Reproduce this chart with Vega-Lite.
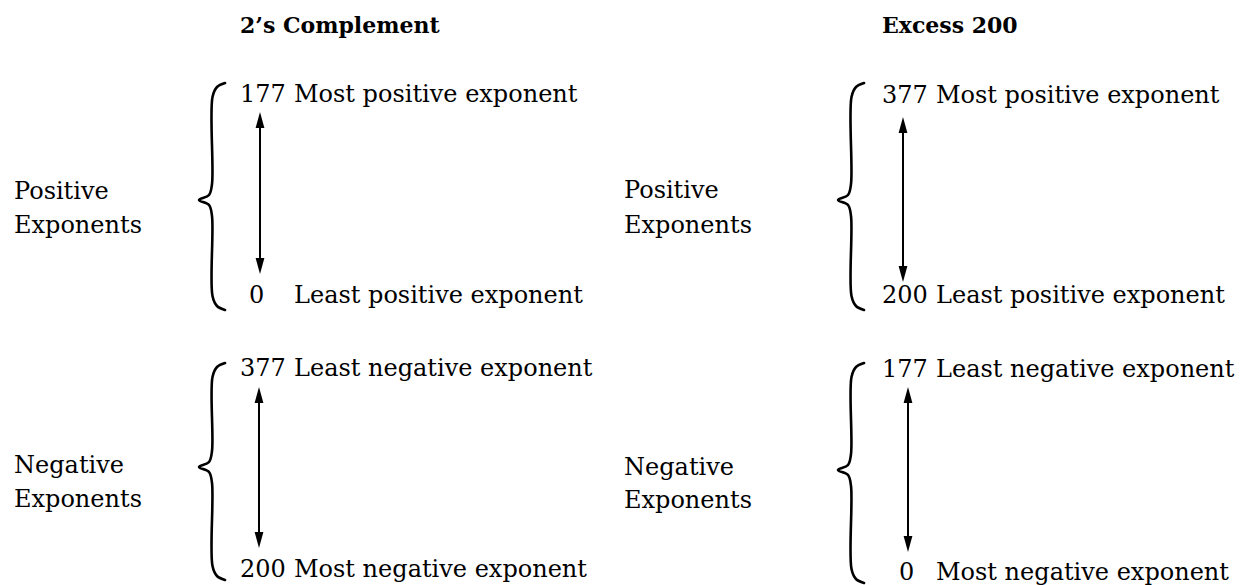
{
  "$schema": "https://vega.github.io/schema/vega-lite/v6.json",
  "width": 1252,
  "height": 585,
  "padding": 0,
  "autosize": {"type": "fit", "contains": "padding"},
  "background": "white",
  "config": {"view": {"stroke": null}},
  "datasets": {
    "titles": [
      {"x": 240, "y": 33, "t": "2’s Complement"},
      {"x": 882, "y": 33, "t": "Excess 200"}
    ],
    "texts": [
      {"x": 14, "y": 199, "t": "Positive"},
      {"x": 14, "y": 233, "t": "Exponents"},
      {"x": 14, "y": 473, "t": "Negative"},
      {"x": 14, "y": 507, "t": "Exponents"},
      {"x": 624, "y": 198, "t": "Positive"},
      {"x": 624, "y": 233, "t": "Exponents"},
      {"x": 624, "y": 475, "t": "Negative"},
      {"x": 624, "y": 508, "t": "Exponents"},
      {"x": 240, "y": 102, "t": "177"},
      {"x": 294, "y": 102, "t": "Most positive exponent"},
      {"x": 249, "y": 303, "t": "0"},
      {"x": 294, "y": 303, "t": "Least positive exponent"},
      {"x": 240, "y": 376, "t": "377"},
      {"x": 294, "y": 376, "t": "Least negative exponent"},
      {"x": 240, "y": 577, "t": "200"},
      {"x": 294, "y": 577, "t": "Most negative exponent"},
      {"x": 882, "y": 103, "t": "377"},
      {"x": 936, "y": 103, "t": "Most positive exponent"},
      {"x": 882, "y": 303, "t": "200"},
      {"x": 936, "y": 303, "t": "Least positive exponent"},
      {"x": 882, "y": 377, "t": "177"},
      {"x": 936, "y": 377, "t": "Least negative exponent"},
      {"x": 899, "y": 580, "t": "0"},
      {"x": 936, "y": 580, "t": "Most negative exponent"}
    ],
    "braces": [
      {"b": "LT", "i": 0, "x": 225, "y": 83}, {"b": "LT", "i": 1, "x": 217, "y": 87}, {"b": "LT", "i": 2, "x": 212.5, "y": 97},
      {"b": "LT", "i": 3, "x": 212, "y": 184}, {"b": "LT", "i": 4, "x": 209, "y": 195}, {"b": "LT", "i": 5, "x": 199, "y": 200},
      {"b": "LT", "i": 6, "x": 209, "y": 205}, {"b": "LT", "i": 7, "x": 212, "y": 216}, {"b": "LT", "i": 8, "x": 212.5, "y": 296},
      {"b": "LT", "i": 9, "x": 217, "y": 306}, {"b": "LT", "i": 10, "x": 225, "y": 310},
      {"b": "LB", "i": 0, "x": 225, "y": 363}, {"b": "LB", "i": 1, "x": 217, "y": 367}, {"b": "LB", "i": 2, "x": 212.5, "y": 377},
      {"b": "LB", "i": 3, "x": 212, "y": 451}, {"b": "LB", "i": 4, "x": 209, "y": 462}, {"b": "LB", "i": 5, "x": 199, "y": 467},
      {"b": "LB", "i": 6, "x": 209, "y": 472}, {"b": "LB", "i": 7, "x": 212, "y": 483}, {"b": "LB", "i": 8, "x": 212.5, "y": 566},
      {"b": "LB", "i": 9, "x": 217, "y": 576}, {"b": "LB", "i": 10, "x": 225, "y": 580},
      {"b": "RT", "i": 0, "x": 864, "y": 83}, {"b": "RT", "i": 1, "x": 856, "y": 87}, {"b": "RT", "i": 2, "x": 851.5, "y": 97},
      {"b": "RT", "i": 3, "x": 851, "y": 184}, {"b": "RT", "i": 4, "x": 848, "y": 195}, {"b": "RT", "i": 5, "x": 838, "y": 200},
      {"b": "RT", "i": 6, "x": 848, "y": 205}, {"b": "RT", "i": 7, "x": 851, "y": 216}, {"b": "RT", "i": 8, "x": 851.5, "y": 296},
      {"b": "RT", "i": 9, "x": 856, "y": 306}, {"b": "RT", "i": 10, "x": 864, "y": 310},
      {"b": "RB", "i": 0, "x": 864, "y": 363}, {"b": "RB", "i": 1, "x": 856, "y": 367}, {"b": "RB", "i": 2, "x": 851.5, "y": 377},
      {"b": "RB", "i": 3, "x": 851, "y": 454}, {"b": "RB", "i": 4, "x": 848, "y": 465}, {"b": "RB", "i": 5, "x": 838, "y": 470},
      {"b": "RB", "i": 6, "x": 848, "y": 475}, {"b": "RB", "i": 7, "x": 851, "y": 486}, {"b": "RB", "i": 8, "x": 851.5, "y": 569},
      {"b": "RB", "i": 9, "x": 856, "y": 579}, {"b": "RB", "i": 10, "x": 864, "y": 583}
    ],
    "shafts": [
      {"x": 260, "y": 116, "y2": 270},
      {"x": 259, "y": 391, "y2": 544},
      {"x": 903, "y": 121, "y2": 278},
      {"x": 908, "y": 391, "y2": 548}
    ],
    "heads": [
      {"x": 260, "y": 120, "d": "up"}, {"x": 260, "y": 266, "d": "down"},
      {"x": 259, "y": 395, "d": "up"}, {"x": 259, "y": 540, "d": "down"},
      {"x": 903, "y": 125, "d": "up"}, {"x": 903, "y": 274, "d": "down"},
      {"x": 908, "y": 395, "d": "up"}, {"x": 908, "y": 544, "d": "down"}
    ]
  },
  "encoding": {
    "x": {"field": "x", "type": "quantitative", "scale": {"domain": [0, 1252], "nice": false, "zero": false}, "axis": null},
    "y": {"field": "y", "type": "quantitative", "scale": {"domain": [0, 585], "nice": false, "zero": false, "reverse": true}, "axis": null}
  },
  "layer": [
    {
      "data": {"name": "braces"},
      "mark": {"type": "line", "interpolate": "catmull-rom", "color": "black", "strokeWidth": 2.6, "strokeCap": "round", "strokeJoin": "round"},
      "encoding": {"detail": {"field": "b", "type": "nominal"}, "order": {"field": "i", "type": "quantitative"}}
    },
    {
      "data": {"name": "shafts"},
      "mark": {"type": "rule", "color": "black", "strokeWidth": 2},
      "encoding": {"y2": {"field": "y2"}}
    },
    {
      "data": {"name": "heads"},
      "mark": {"type": "point", "filled": true, "color": "black", "opacity": 1, "size": 256, "strokeWidth": 0},
      "encoding": {
        "shape": {"field": "d", "type": "nominal", "scale": {"domain": ["up", "down"], "range": ["M0,-1L0.55,1L-0.55,1Z", "M0,1L0.55,-1L-0.55,-1Z"]}, "legend": null}
      }
    },
    {
      "data": {"name": "titles"},
      "mark": {"type": "text", "align": "left", "baseline": "alphabetic", "font": "DejaVu Serif", "fontSize": 22, "fontWeight": "bold", "color": "black"},
      "encoding": {"text": {"field": "t"}}
    },
    {
      "data": {"name": "texts"},
      "mark": {"type": "text", "align": "left", "baseline": "alphabetic", "font": "DejaVu Serif", "fontSize": 24, "color": "black"},
      "encoding": {"text": {"field": "t"}}
    }
  ]
}
